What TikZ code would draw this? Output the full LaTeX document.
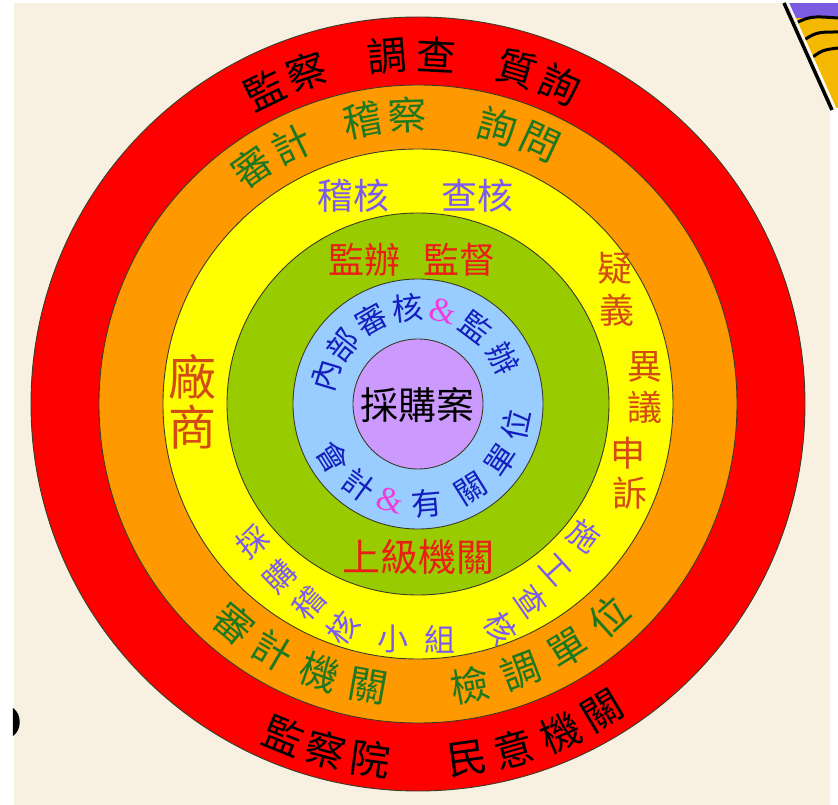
\documentclass[tikz,border=0pt]{standalone}
\usepackage{fontspec}
\newfontfamily\cjk{Noto Sans CJK TC}
\newfontfamily\ampfont{Liberation Serif}
\definecolor{sheet}{RGB}{248,241,226}
\definecolor{ringline}{RGB}{60,60,40}
\definecolor{ringred}{RGB}{255,0,0}
\definecolor{ringorange}{RGB}{255,153,0}
\definecolor{ringyellow}{RGB}{255,255,0}
\definecolor{ringgreen}{RGB}{153,204,0}
\definecolor{ringblue}{RGB}{153,204,255}
\definecolor{ringlilac}{RGB}{204,153,255}
\definecolor{txtgreen}{RGB}{30,120,30}
\definecolor{txtpurple}{RGB}{122,90,240}
\definecolor{txtorange}{RGB}{210,75,20}
\definecolor{txtred}{RGB}{235,30,20}
\definecolor{txtblue}{RGB}{20,30,190}
\definecolor{txtmagenta}{RGB}{240,60,220}
\definecolor{clipgold}{RGB}{245,184,0}
\definecolor{clippurple}{RGB}{123,92,224}
\begin{document}
\begin{tikzpicture}[x=1pt,y=1pt,
    ring/.style={draw=ringline, line width=0.9pt},
    cjktxt/.style={font=\cjk\fontsize{#1}{#1}\selectfont, inner sep=0pt}]
    % sheet and margins
    \useasboundingbox (-418,-401) rectangle (420,404);
    \fill[white] (-418,-401) rectangle (420,404);
    \fill[sheet] (-404,-401) rectangle (412,401);
    % corner of a clip-art at the top right, and a mark at the left edge
    \begin{scope}
        \clip (369,401) -- (420,401) -- (420,296) -- (416,296) -- cycle;
        \fill[clipgold] (360,290) rectangle (420,401);
        \fill[clippurple] (360,386) rectangle (420,401);
        \draw[line width=3pt] (372,378) .. controls (392,388) .. (420,386);
        \draw[line width=3pt] (380,360) .. controls (398,372) .. (420,372);
        \draw[line width=3pt] (388,342) .. controls (404,354) .. (420,356);
    \end{scope}
    \draw[white, line width=2pt] (370,401) -- (418,294);
    \draw[line width=3.5pt] (366,401) -- (414,294);
    \fill (-405,-304) .. controls (-396,-310) and (-396,-326) .. (-405,-332) -- cycle;
    % rings from the outside in
    \draw[ring, fill=ringred] (0,0) circle (387);
    \draw[ring, fill=ringorange] (0,0) circle (319);
    \draw[ring, fill=ringyellow] (0,0) circle (255);
    \draw[ring, fill=ringgreen] (0,0) circle (191);
    \draw[ring, fill=ringblue] (0,0) circle (125);
    \draw[ring, fill=ringlilac] (0,0) circle (65);
    % centre
    \node[cjktxt=38] (case) at (0,-1) {採購案};
    % red ring
    \foreach \a/\ch [count=\i] in {116/監,108.5/察,95/調,87/查,73.5/質,66/詢}
        \node[cjktxt=40, rotate=\a-90] (redtop\i) at (\a:350) {\ch};
    \foreach \a/\ch [count=\i] in {-112/監,-105/察,-97.7/院,-82/民,-74.5/意,-66.5/機,-59/關}
        \node[cjktxt=40, rotate=\a+90] (redbot\i) at (\a:358) {\ch};
    % orange ring
    \foreach \a/\ch [count=\i] in {125/審,116/計,101/稽,92/察,74/詢,65/問}
        \node[cjktxt=39, text=txtgreen, rotate=\a-90] (orgtop\i) at (\a:289) {\ch};
    \foreach \a/\ch [count=\i] in {-130/審,-120.5/計,-110/機,-100/關,-79.5/檢,-69/調,-58.5/單,-48/位}
        \node[cjktxt=39, text=txtgreen, rotate=\a+90] (orgbot\i) at (\a:286) {\ch};
    % yellow ring
    \node[cjktxt=36, text=txtpurple] (audit) at (-64,208) {稽核};
    \node[cjktxt=36, text=txtpurple] (check) at (60,208) {查核};
    \foreach \x/\y/\r/\ch [count=\i] in {-166/-138/38/採,-139/-172/44/購,-109/-199/48/稽,-75/-224/52/核,
        -25/-235/0/小,22/-235/0/組,83/-224/-58/核,113/-197/-55/查,137/-166/-48/工,166/-132/-35/施}
        \node[cjktxt=31, text=txtpurple, rotate=\r] (yelbot\i) at (\x,\y) {\ch};
    \node[cjktxt=48, text=txtorange] (vendor1) at (-225,27) {廠};
    \node[cjktxt=48, text=txtorange] (vendor2) at (-225,-23) {商};
    \foreach \x/\y/\ch [count=\i] in {197/136/疑,199/94/義,227/37/異,227/-3/議,210/-49/申,212/-89/訴}
        \node[cjktxt=35, text=txtorange] (appeal\i) at (\x,\y) {\ch};
    % green ring
    \node[cjktxt=36, text=txtred] (supervise) at (-53,144) {監辦};
    \node[cjktxt=36, text=txtred] (oversee) at (42,144) {監督};
    \node[cjktxt=38, text=txtred] (superior) at (1,-153) {上級機關};
    % blue ring
    \foreach \a/\ch [count=\i] in {163/內,142/部,119/審,96/核,53/監,28/辦}
        \node[cjktxt=31, text=txtblue, rotate=\a-90] (bluetop\i) at (\a:96) {\ch};
    \node[font=\ampfont\fontsize{34}{34}\selectfont, inner sep=0pt, text=txtmagenta, rotate=-15] (amptop) at (75:96) {\&};
    \foreach \a/\ch [count=\i] in {-148/會,-126/計,-85/有,-58/關,-34/單,-12/位}
        \node[cjktxt=31, text=txtblue, rotate=\a+90] (bluebot\i) at (\a:100) {\ch};
    \node[font=\ampfont\fontsize{34}{34}\selectfont, inner sep=0pt, text=txtmagenta, rotate=-16] (ampbot) at (-106:100) {\&};
\end{tikzpicture}
\end{document}
